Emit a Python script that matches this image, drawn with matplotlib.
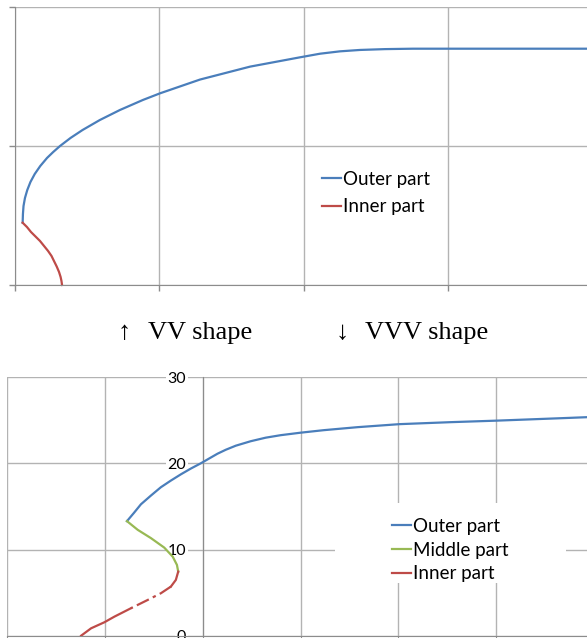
import matplotlib
matplotlib.use("Agg")
import matplotlib.pyplot as plt
from matplotlib.patches import Rectangle

# VV shape (top)
vv_outer_x = [0.053, 0.055, 0.059, 0.069, 0.085, 0.107, 0.137, 0.175, 0.222, 0.265,
              0.312, 0.385, 0.468, 0.588, 0.727, 0.886, 1.005, 1.282, 1.629, 1.975,
              2.114, 2.252, 2.391, 2.564, 2.758, 3.964]
vv_outer_y = [0.448, 0.511, 0.568, 0.626, 0.683, 0.741, 0.799, 0.856, 0.914, 0.957,
              1.000, 1.058, 1.115, 1.187, 1.259, 1.331, 1.379, 1.478, 1.571, 1.638,
              1.664, 1.681, 1.691, 1.697, 1.700, 1.700]
vv_inner_x = [0.053, 0.083, 0.111, 0.142, 0.173, 0.201, 0.229, 0.253, 0.270, 0.289,
              0.305, 0.316, 0.322, 0.326]
vv_inner_y = [0.448, 0.417, 0.381, 0.349, 0.317, 0.281, 0.245, 0.209, 0.173, 0.133,
              0.094, 0.058, 0.029, 0.0]

# VVV shape (bottom)
vvv_outer_x = [-0.776, -0.704, -0.633, -0.531, -0.429, -0.327, -0.224, -0.122, -0.020,
               0.061, 0.150, 0.235, 0.337, 0.490, 0.643, 0.796, 1.0, 1.235, 1.582,
               2.010, 2.531, 3.010, 3.684, 3.929]
vvv_outer_y = [13.30, 14.27, 15.26, 16.27, 17.24, 18.01, 18.74, 19.41, 20.02,
               20.55, 21.13, 21.59, 22.06, 22.58, 22.99, 23.28, 23.57, 23.86, 24.21,
               24.56, 24.79, 24.97, 25.26, 25.37]
vvv_middle_x = [-0.776, -0.666, -0.531, -0.395, -0.309, -0.265, -0.252]
vvv_middle_y = [13.30, 12.29, 11.33, 10.23, 9.19, 8.22, 7.44]
vvv_inner_x = [-0.252, -0.276, -0.327, -0.429, -0.564, -0.735, -0.905, -1.007, -1.143, -1.245]
vvv_inner_y = [7.44, 6.48, 5.70, 4.93, 4.15, 3.19, 2.21, 1.56, 0.86, 0.0]

blue = "#4a7ebb"
red = "#be4b48"
green = "#98b954"
grid_c = "#b3b3b3"
axis_c = "#8c8c8c"
W, H = 587, 638

fig = plt.figure(figsize=(W / 100, H / 100), dpi=100)

# ---- top chart
ax1 = fig.add_axes([15 / W, 1 - 285 / H, 1 - 15 / W, (285 - 7) / H])
ax1.set_xlim(0, 3.964)
ax1.set_ylim(0, 2)
ax1.set_xticks([0, 1, 2, 3])
ax1.set_yticks([0, 1, 2])
ax1.set_xticklabels([])
ax1.set_yticklabels([])
ax1.grid(True, color=grid_c, lw=1)
ax1.tick_params(length=4, color=axis_c, width=1)
for s in ["top", "right"]:
    ax1.spines[s].set_visible(False)
for s in ["left", "bottom"]:
    ax1.spines[s].set_color(axis_c)
ax1.plot(vv_outer_x, vv_outer_y, color=blue, lw=1.6, label="Outer part", clip_on=False)
ax1.plot(vv_inner_x, vv_inner_y, color=red, lw=1.6, label="Inner part", clip_on=False)
ax1.legend(loc="upper left", bbox_to_anchor=(322 / W, 1 - 171 / H),
           bbox_transform=fig.transFigure, frameon=False, borderpad=0,
           borderaxespad=0, handlelength=1.0, handletextpad=0.1, labelspacing=0.55,
           prop={"family": "Lato", "size": 13.5})

# ---- middle captions
cap = dict(family=["Liberation Serif", "DejaVu Serif"], size=19, va="center", ha="left")
fig.text(118 / W, 1 - 333 / H, "↑", **cap)
fig.text(148 / W, 1 - 333 / H, "VV shape", **cap)
fig.text(336 / W, 1 - 333 / H, "↓", **cap)
fig.text(365 / W, 1 - 333 / H, "VVV shape", **cap)

# ---- bottom chart
ax2 = fig.add_axes([7.3 / W, 1 - 635.7 / H, 1 - 7.3 / W, (635.7 - 377.3) / H])
ax2.set_xlim(-1.99, 3.929)
ax2.set_ylim(0, 30)
ax2.set_xticks([-2, -1, 0, 1, 2, 3])
ax2.set_yticks([0, 10, 20, 30])
ax2.set_xticklabels([])
ax2.grid(True, color=grid_c, lw=1)
ax2.spines["left"].set_position(("data", 0))
for s in ["top", "right"]:
    ax2.spines[s].set_visible(False)
for s in ["left", "bottom"]:
    ax2.spines[s].set_color(axis_c)
ax2.tick_params(axis="y", length=0, pad=12, labelsize=11.5)
ax2.tick_params(axis="x", length=4, color=axis_c)
for lab in ax2.get_yticklabels():
    lab.set_family("Lato")
    lab.set_bbox(dict(facecolor="white", edgecolor="none", pad=1))

ax2.plot(vvv_outer_x, vvv_outer_y, color=blue, lw=1.6, label="Outer part", zorder=3)
ax2.plot(vvv_middle_x, vvv_middle_y, color=green, lw=1.6, label="Middle part", zorder=3)
ax2.plot(vvv_inner_x[:3], vvv_inner_y[:3], color=red, lw=1.6, label="Inner part", zorder=3)
ax2.plot(vvv_inner_x[2:6], vvv_inner_y[2:6], color=red, lw=1.6,
         linestyle=(0, (6, 2, 1.5, 2)), zorder=3)
ax2.plot(vvv_inner_x[5:], vvv_inner_y[5:], color=red, lw=1.6, zorder=3)

ax2.add_patch(Rectangle((335 / W, 1 - 583 / H), (566 - 335) / W, (583 - 503) / H,
                        transform=fig.transFigure, facecolor="white",
                        edgecolor="none", zorder=2, clip_on=False))
ax2.legend(loc="upper left", bbox_to_anchor=(392 / W, 1 - 518 / H),
           bbox_transform=fig.transFigure, frameon=False, borderpad=0,
           borderaxespad=0, handlelength=1.0, handletextpad=0.1, labelspacing=0.35,
           prop={"family": "Lato", "size": 13.5})

fig.savefig("out.png", dpi=100)
